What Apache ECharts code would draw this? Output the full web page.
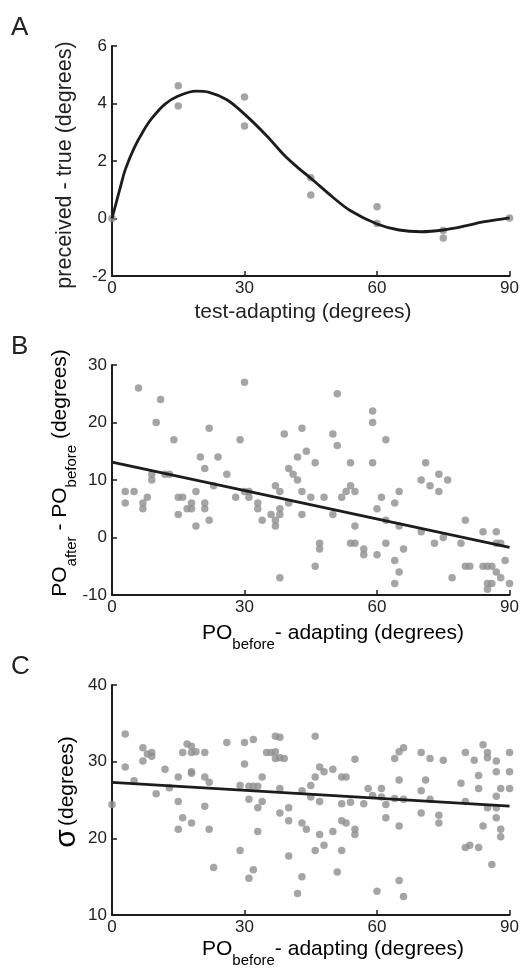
<!DOCTYPE html>
<html>
<head>
<meta charset="utf-8">
<script src="https://cdn.jsdelivr.net/npm/echarts@6/dist/echarts.min.js"></script>
<style>
html,body{margin:0;padding:0;background:#fff;}
#c{width:522px;height:968px;}
</style>
</head>
<body>
<div id="c"></div>
<script>
// ---- Panel A data ----
const aX = [0, 15, 15, 30, 30, 45, 45, 60, 60, 75, 75, 90];
const aY = [0, 4.62, 3.91, 4.23, 3.22, 1.42, 0.82, 0.41, -0.17, -0.42, -0.68, 0.02];
const curveX = [0, 2, 3, 5, 7, 9, 12, 15, 19, 22, 26, 30, 35, 39, 42, 45, 50, 54, 60, 65, 70, 75, 80, 84, 90];
const curveY = [0, 1.15, 1.7, 2.45, 3.02, 3.48, 3.98, 4.26, 4.43, 4.39, 4.13, 3.63, 2.88, 2.2, 1.78, 1.4, 0.74, 0.27, -0.19, -0.4, -0.46, -0.4, -0.26, -0.12, 0.02];
// ---- Panel B data ----
const bX = [3,3,5,6,7,7,8,9,9,10,11,12,13,14,15,15,16,17,18,18,19,19,20,21,21,21,22,22,23,24,26,28,29,30,30,31,31,33,33,34,36,37,37,37,38,38,38,38,39,40,40,41,42,42,43,43,43,44,45,46,46,47,47,48,50,50,51,51,52,53,54,54,54,55,55,55,57,57,59,59,59,60,60,61,62,62,62,64,64,64,65,65,65,66,70,70,71,72,73,74,74,75,76,77,79,80,80,81,84,84,85,85,85,86,86,87,87,87,88,88,89,90];
const bY = [8,6,8,26,6,5,7,11,10,20,24,11,11,17,7,4,7,5,6,5,8,2,14,12,6,5,19,3,9,14,11,7,17,27,8,8,7,6,5,3,4,9,3,2,8,5,4,-7,18,12,6,11,10,14,19,8,4,15,7,13,-5,-1,-2,7,18,4,25,16,7,8,13,9,-1,8,2,-1,-2,-3,22,20,13,5,-3,7,17,3,-1,6,-4,-8,8,2,-6,-2,10,1,13,9,-1,11,8,0,10,-7,-1,3,-5,-5,1,-5,-5,-8,-9,-5,-8,1,-1,-6,-7,-1,-4,-8];
const bLineX = [0, 90];
const bLineY = [13.1, -1.7];
// ---- Panel C data ----
const cX = [0,3,3,5,7,7,8,9,9,10,12,13,15,15,15,16,16,17,18,18,18,18,18,19,21,21,21,22,22,23,26,29,29,30,30,31,31,31,32,32,32,33,33,33,34,34,35,36,37,37,37,38,38,38,38,39,40,40,40,42,43,43,43,44,45,45,46,46,46,47,47,47,48,48,50,50,51,52,52,52,52,53,53,54,55,55,55,57,58,59,60,61,61,62,62,64,64,65,65,65,65,66,66,66,70,70,70,71,72,72,74,74,75,79,80,80,80,81,82,83,83,83,84,84,85,85,85,86,87,87,87,87,87,88,88,88,90,90,90];
const cY = [24.4,33.6,29.3,27.5,31.8,30.1,31.0,31.2,30.7,25.8,29.0,26.6,28.0,24.8,21.2,31.2,22.7,32.3,32.0,31.2,28.7,28.5,22.0,31.3,31.2,28.0,24.2,27.3,21.2,16.2,32.5,26.9,18.4,32.5,29.7,26.8,25.1,14.8,32.9,26.8,15.9,26.8,24.0,20.9,28.0,24.8,31.2,31.2,33.3,31.3,30.4,33.2,30.5,26.5,23.3,30.4,24.0,22.3,17.7,12.8,26.2,22.0,15.0,21.2,26.9,25.4,33.3,28.0,18.4,29.3,24.8,20.5,28.7,19.1,29.0,20.9,15.6,28.0,24.5,22.3,18.4,28.0,22.0,24.7,30.3,21.2,20.5,24.5,26.5,25.6,13.1,26.5,25.4,24.4,22.7,30.4,25.2,31.3,27.6,21.6,14.5,31.8,25.1,12.4,31.2,26.2,23.3,27.6,30.4,25.1,23.0,22.0,30.2,27.2,31.2,24.8,18.8,19.1,30.2,28.2,26.5,18.8,32.2,21.6,31.2,30.5,24.0,16.6,30.1,28.7,25.5,24.0,22.7,26.5,21.2,20.2,31.2,28.7,26.5];
const cLineX = [0, 90];
const cLineY = [27.3, 24.2];

const FONT = '"Liberation Sans", Arial, Helvetica, sans-serif';
const INK = '#1c1c1c';
const DOT = '#8f8f8f';

function zip(xs, ys) { return xs.map((x, i) => [x, ys[i]]); }

function xAxisDef(idx) {
  return {
    gridIndex: idx, type: 'value', min: 0, max: 90, interval: 30,
    axisLine: { show: true, onZero: false, lineStyle: { color: INK, width: 2 } },
    axisTick: { show: true, inside: true, length: 5, lineStyle: { color: INK, width: 1.5 } },
    axisLabel: { color: '#222', fontSize: 17, fontFamily: FONT, margin: 4 },
    splitLine: { show: false }
  };
}
function yAxisDef(idx, min, max, interval) {
  return {
    gridIndex: idx, type: 'value', min: min, max: max, interval: interval,
    axisLine: { show: true, onZero: false, lineStyle: { color: INK, width: 2 } },
    axisTick: { show: true, inside: true, length: 5, lineStyle: { color: INK, width: 1.5 } },
    axisLabel: { color: '#222', fontSize: 17, fontFamily: FONT, margin: 5 },
    splitLine: { show: false }
  };
}

const subRich = {
  m: { fontSize: 21, lineHeight: 24, verticalAlign: 'top', fontFamily: FONT, color: '#222' },
  s: { fontSize: 15, lineHeight: 44, verticalAlign: 'middle', fontFamily: FONT, color: '#222' }
};

const chart = echarts.init(document.getElementById('c'), null, { renderer: 'canvas' });
chart.setOption({
  animation: false,
  backgroundColor: '#fff',
  grid: [
    { left: 112, right: 10, top: 46, height: 230 },
    { left: 112, right: 10, top: 365, height: 230 },
    { left: 112, right: 10, top: 685, height: 230 }
  ],
  xAxis: [xAxisDef(0), xAxisDef(1), xAxisDef(2)],
  yAxis: [yAxisDef(0, -2, 6, 2), yAxisDef(1, -10, 30, 10), yAxisDef(2, 10, 40, 10)],
  series: [
    { type: 'scatter', xAxisIndex: 0, yAxisIndex: 0, data: zip(aX, aY), symbolSize: 7.5, itemStyle: { color: DOT }, z: 2 },
    { type: 'line', xAxisIndex: 0, yAxisIndex: 0, data: zip(curveX, curveY), smooth: 0.35, showSymbol: false, symbol: 'none', lineStyle: { color: INK, width: 2.8 }, z: 3 },
    { type: 'scatter', xAxisIndex: 1, yAxisIndex: 1, data: zip(bX, bY), symbolSize: 7.5, itemStyle: { color: DOT }, z: 2 },
    { type: 'line', xAxisIndex: 1, yAxisIndex: 1, data: zip(bLineX, bLineY), showSymbol: false, symbol: 'none', lineStyle: { color: INK, width: 2.8 }, z: 3 },
    { type: 'scatter', xAxisIndex: 2, yAxisIndex: 2, data: zip(cX, cY), symbolSize: 7.5, itemStyle: { color: DOT }, z: 2 },
    { type: 'line', xAxisIndex: 2, yAxisIndex: 2, data: zip(cLineX, cLineY), showSymbol: false, symbol: 'none', lineStyle: { color: INK, width: 2.8 }, z: 3 }
  ],
  graphic: [
    { type: 'text', x: 11, y: 28, style: { text: 'A', fontSize: 26, fontFamily: FONT, fill: '#222', verticalAlign: 'middle' } },
    { type: 'text', x: 11, y: 347, style: { text: 'B', fontSize: 26, fontFamily: FONT, fill: '#222', verticalAlign: 'middle' } },
    { type: 'text', x: 11, y: 667, style: { text: 'C', fontSize: 26, fontFamily: FONT, fill: '#222', verticalAlign: 'middle' } },
    // A axis titles
    { type: 'text', x: 303, y: 312, style: { text: 'test-adapting (degrees)', fontSize: 21, fontFamily: FONT, fill: '#222', align: 'center', verticalAlign: 'middle' } },
    { type: 'text', x: 65, y: 165, rotation: Math.PI / 2, style: { text: 'preceived - true (degrees)', fontSize: 21.5, fontFamily: FONT, fill: '#222', align: 'center', verticalAlign: 'middle' } },
    // B axis titles
    { type: 'text', x: 202, y: 623, style: { text: '{m|PO}{s|before}{m|- adapting (degrees)}', rich: subRich, align: 'left', verticalAlign: 'top' } },
    { type: 'text', x: 72, y: 473, rotation: Math.PI / 2, style: { text: '{m|PO}{s|after}{m| - PO}{s|before}{m| (degrees)}', rich: subRich, align: 'center', verticalAlign: 'middle' } },
    // C axis titles
    { type: 'text', x: 202, y: 939, style: { text: '{m|PO}{s|before}{m|- adapting (degrees)}', rich: subRich, align: 'left', verticalAlign: 'top' } },
    { type: 'text', x: 67, y: 792, rotation: Math.PI / 2, style: { text: '{g|σ} {m|(degrees)}', rich: { g: { fontSize: 30, fontFamily: FONT, color: '#222' }, m: { fontSize: 21, fontFamily: FONT, color: '#222' } }, align: 'center', verticalAlign: 'middle' } }
  ]
});
</script>
</body>
</html>
